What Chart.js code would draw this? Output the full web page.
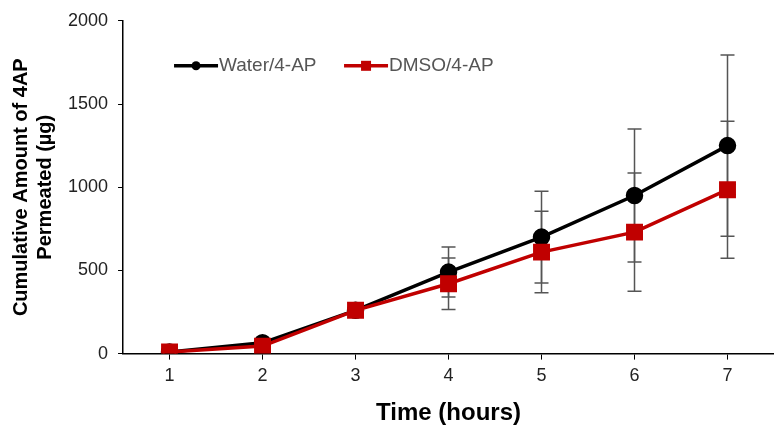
<!DOCTYPE html>
<html>
<head>
<meta charset="utf-8">
<script src="https://cdn.jsdelivr.net/npm/chart.js@4"></script>
<style>
  html, body { margin: 0; padding: 0; background: #fff; }
  #wrap { width: 774px; height: 430px; }
</style>
</head>
<body>
<div id="wrap"><canvas id="myChart" width="774" height="430"></canvas></div>
<script>
const hours = ['1', '2', '3', '4', '5', '6', '7'];
const waterValues = [10, 65, 260, 490, 700, 950, 1250];
const waterErrors = [0, 0, 0, 150, 275, 400, 545];
const dmsoValues = [10, 45, 260, 420, 610, 730, 985];
const dmsoErrors = [0, 0, 0, 155, 245, 355, 412];
const yTicks = [0, 500, 1000, 1500, 2000];

const FONT = 'Liberation Sans, Arial, sans-serif';

// error bars drawn behind the lines, using the chart's own scales
const errorBars = {
  id: 'errorBars',
  beforeDatasetsDraw(chart) {
    const ctx = chart.ctx;
    const x = chart.scales.x, y = chart.scales.y;
    ctx.save();
    ctx.strokeStyle = '#555';
    ctx.lineWidth = 1.5;
    chart.data.datasets.forEach(ds => {
      ds.data.forEach((v, i) => {
        const e = ds.errors[i];
        if (!e) return;
        const px = x.getPixelForValue(i);
        const top = y.getPixelForValue(v + e);
        const bot = y.getPixelForValue(v - e);
        ctx.beginPath();
        ctx.moveTo(px, top); ctx.lineTo(px, bot);
        ctx.moveTo(px - 7, top); ctx.lineTo(px + 7, top);
        ctx.moveTo(px - 7, bot); ctx.lineTo(px + 7, bot);
        ctx.stroke();
      });
    });
    ctx.restore();
  }
};

// legend inside the plot: short line with marker, then label
const insideLegend = {
  id: 'insideLegend',
  afterDraw(chart) {
    const ctx = chart.ctx;
    const area = chart.chartArea;
    const y0 = area.top + 45;
    let x0 = area.left + 51;
    ctx.save();
    ctx.font = '19px ' + FONT;
    ctx.textBaseline = 'middle';
    const order = [1, 0];
    order.forEach(k => {
      const ds = chart.data.datasets[k];
      ctx.strokeStyle = ds.borderColor;
      ctx.lineWidth = 3.5;
      ctx.beginPath();
      ctx.moveTo(x0, y0); ctx.lineTo(x0 + 44, y0);
      ctx.stroke();
      ctx.fillStyle = ds.borderColor;
      if (ds.pointStyle === 'rect') {
        ctx.fillRect(x0 + 17, y0 - 5, 10, 10);
      } else {
        ctx.beginPath();
        ctx.arc(x0 + 22, y0, 4.5, 0, Math.PI * 2);
        ctx.fill();
      }
      ctx.fillStyle = '#555';
      ctx.fillText(ds.label, x0 + 45, y0);
      x0 += 170;
    });
    ctx.restore();
  }
};

new Chart(document.getElementById('myChart').getContext('2d'), {
  type: 'line',
  data: {
    labels: hours,
    datasets: [
      {
        label: 'DMSO/4-AP',
        data: dmsoValues,
        errors: dmsoErrors,
        borderColor: '#c00000',
        backgroundColor: '#c00000',
        borderWidth: 3.5,
        pointStyle: 'rect',
        pointRadius: 9.5,
        order: 0
      },
      {
        label: 'Water/4-AP',
        data: waterValues,
        errors: waterErrors,
        borderColor: '#000',
        backgroundColor: '#000',
        borderWidth: 3.5,
        pointStyle: 'circle',
        pointRadius: 7,
        order: 1
      }
    ]
  },
  options: {
    responsive: false,
    animation: false,
    layout: { autoPadding: false, padding: { top: 12, right: 0, bottom: 2, left: 9 } },
    plugins: {
      legend: { display: false },
      tooltip: { enabled: false }
    },
    scales: {
      x: {
        offset: true,
        grid: { display: true, drawOnChartArea: false, drawTicks: true, tickLength: 6, color: '#000', offset: false },
        border: { color: '#000', width: 1.5 },
        ticks: { color: '#222', font: { family: FONT, size: 18 }, padding: 6 },
        title: { display: true, text: 'Time (hours)', color: '#000', font: { family: FONT, size: 24, weight: 'bold' }, padding: { top: 6, bottom: 0 } }
      },
      y: {
        min: 0,
        max: 2000,
        afterBuildTicks: axis => { axis.ticks = yTicks.map(v => ({ value: v })); },
        grid: { display: true, drawOnChartArea: false, drawTicks: true, tickLength: 5, color: '#000' },
        border: { color: '#000', width: 1.5 },
        ticks: { color: '#222', font: { family: FONT, size: 18 }, padding: 10, callback: v => String(v) },
        title: { display: true, text: ['Cumulative Amount of 4AP', 'Permeated (µg)'], color: '#000', font: { family: FONT, size: 20, weight: 'bold', lineHeight: 1.2 }, padding: { top: 0, bottom: 1 } }
      }
    }
  },
  plugins: [errorBars, insideLegend]
});
</script>
</body>
</html>
